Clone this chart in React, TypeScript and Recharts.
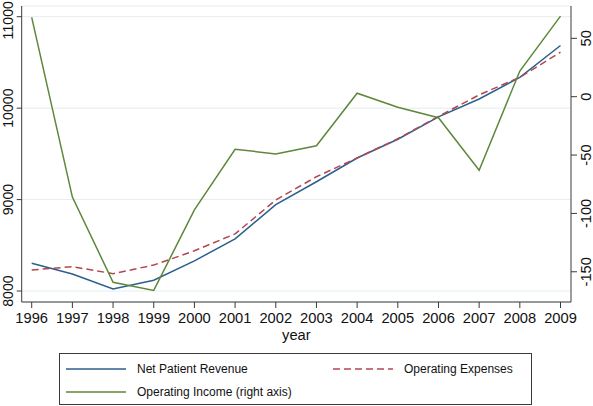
import React from 'react';
import { LineChart, Line, XAxis, YAxis, CartesianGrid } from 'recharts';

// Values
const years = [1996, 1997, 1998, 1999, 2000, 2001, 2002, 2003, 2004, 2005, 2006, 2007, 2008, 2009];
const netPatientRevenue = [8303, 8186, 8022, 8118, 8330, 8570, 8945, 9195, 9455, 9660, 9905, 10100, 10337, 10685];
const operatingExpenses = [8230, 8266, 8190, 8284, 8440, 8625, 8995, 9250, 9455, 9665, 9910, 10145, 10337, 10612];
const operatingIncome = [68, -86, -159, -166, -97, -45, -49, -42, 3, -9, -18, -63, 22, 69];

const leftTicks = [8000, 9000, 10000, 11000];
const rightTicks = [-150, -100, -50, 0, 50];

const data = years.map((year, i) => ({
  year,
  revenue: netPatientRevenue[i],
  expenses: operatingExpenses[i],
  income: operatingIncome[i],
}));

const FONT = '"Liberation Sans", Arial, Helvetica, sans-serif';
const AXIS = '#3a3a3a';
const BLUE = '#2b5f8e';
const RED = '#b4474d';
const GREEN = '#5f873a';

const XTick = ({ x, y, payload }: any) => (
  <text x={x} y={y} dy="0.71em" textAnchor="middle" fontSize={14.7} fontFamily={FONT} fill="#111">
    {payload.value}
  </text>
);

// Stata-style vertical tick labels, reading bottom to top.
// The top label is nudged down just enough to stay inside the page.
const LeftTick = ({ x, y, payload }: any) => {
  const size = 14.2;
  const half = (String(payload.value).length * 0.556 * size) / 2 + 0.5;
  const cy = Math.max(y, half);
  return (
    <text transform={`translate(${x - 3.6},${cy}) rotate(-90)`} textAnchor="middle" fontSize={size} fontFamily={FONT} fill="#111">
      {payload.value}
    </text>
  );
};

const RightTick = ({ x, y, payload }: any) => (
  <text transform={`translate(${x + 11.5},${y}) rotate(-90)`} textAnchor="middle" fontSize={14.7} fontFamily={FONT} fill="#111">
    {payload.value}
  </text>
);

const YearLabel = ({ viewBox }: any) => (
  <text x={viewBox.x + viewBox.width / 2} y={viewBox.y + 37.5} textAnchor="middle" fontSize={14.7} fontFamily={FONT} fill="#111">
    year
  </text>
);

const LegendItem = ({ color, dashed, label, left, top }: any) => (
  <div style={{ position: 'absolute', left, top, display: 'flex', alignItems: 'center', height: 14 }}>
    <svg width={60} height={4} style={{ display: 'block' }}>
      <line x1={0} y1={2} x2={60} y2={2} stroke={color} strokeWidth={1.5} strokeDasharray={dashed ? '7 4' : undefined} />
    </svg>
    <span style={{ marginLeft: 11, fontSize: 12, fontFamily: FONT, color: '#111', whiteSpace: 'nowrap' }}>{label}</span>
  </div>
);

export default function App() {
  return (
    <div style={{ position: 'absolute', left: 0, top: 0, width: 593, height: 406, background: '#fff' }}>
      <LineChart width={593} height={406} data={data} margin={{ top: 6, right: 0, bottom: 56, left: 0 }}>
        <CartesianGrid yAxisId="left" vertical={false} stroke="#e4edf0" strokeWidth={1} />
        <XAxis
          dataKey="year"
          type="number"
          domain={[1995.754, 2009.258]}
          ticks={years}
          interval={0}
          height={48}
          tickSize={6}
          tickMargin={5}
          stroke={AXIS}
          tickLine={{ stroke: AXIS }}
          tick={<XTick />}
          label={<YearLabel />}
        />
        <YAxis
          yAxisId="left"
          orientation="left"
          width={21.7}
          domain={[7880, 11117]}
          ticks={leftTicks}
          interval={0}
          tickSize={5}
          tickMargin={0}
          stroke={AXIS}
          tick={<LeftTick />}
        />
        <YAxis
          yAxisId="right"
          orientation="right"
          width={22}
          domain={[-175.9, 77.7]}
          ticks={rightTicks}
          interval={0}
          tickSize={6}
          tickMargin={2}
          stroke={AXIS}
          tick={<RightTick />}
        />
        <Line yAxisId="left" type="linear" dataKey="revenue" name="Net Patient Revenue" stroke={BLUE} strokeWidth={1.5} dot={false} isAnimationActive={false} />
        <Line yAxisId="left" type="linear" dataKey="expenses" name="Operating Expenses" stroke={RED} strokeWidth={1.5} strokeDasharray="7 4" dot={false} isAnimationActive={false} />
        <Line yAxisId="right" type="linear" dataKey="income" name="Operating Income (right axis)" stroke={GREEN} strokeWidth={1.5} dot={false} isAnimationActive={false} />
      </LineChart>
      <div style={{ position: 'absolute', left: 59, top: 353, width: 473, height: 52, border: `1px solid ${AXIS}`, boxSizing: 'border-box' }} />
      <LegendItem color={BLUE} label="Net Patient Revenue" left={66} top={362} />
      <LegendItem color={RED} dashed label="Operating Expenses" left={333} top={362} />
      <LegendItem color={GREEN} label="Operating Income (right axis)" left={66} top={385} />
    </div>
  );
}
